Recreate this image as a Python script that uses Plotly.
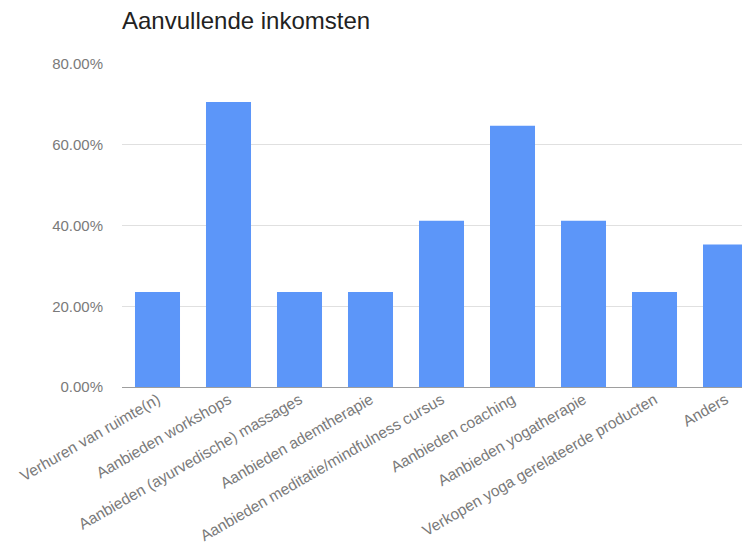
import plotly.graph_objects as go

categories = [
    "Verhuren van ruimte(n)",
    "Aanbieden workshops",
    "Aanbieden (ayurvedische) massages",
    "Aanbieden ademtherapie",
    "Aanbieden meditatie/mindfulness cursus",
    "Aanbieden coaching",
    "Aanbieden yogatherapie",
    "Verkopen yoga gerelateerde producten",
    "Anders",
]
values = [23.53, 70.59, 23.53, 23.53, 41.18, 64.71, 41.18, 23.53, 35.29]
y_ticks = [0, 20, 40, 60, 80]
y_tick_labels = ["0.00%", "20.00%", "40.00%", "60.00%", "80.00%"]

W, H = 742, 545

fig = go.Figure(
    go.Bar(
        x=categories,
        y=values,
        marker=dict(color="#5c96f9", line=dict(width=0)),
        width=0.634,
    )
)

fig.update_layout(
    width=W,
    height=H,
    paper_bgcolor="white",
    plot_bgcolor="white",
    margin=dict(l=114, r=0, t=56, b=166),
    title=dict(
        text="Aanvullende inkomsten",
        x=114 / W,
        xanchor="left",
        y=1 - 13 / H,
        yanchor="middle",
        font=dict(family="Liberation Sans, Arial", size=24, color="#222222"),
    ),
    font=dict(family="Liberation Sans, Arial", size=15, color="#757575"),
    showlegend=False,
)

fig.update_xaxes(
    tickangle=-30,
    range=[-0.5, 8.345],
    showgrid=False,
    showline=False,
    automargin=False,
    ticks="",
    tickfont=dict(size=15.5, color="#7a7a7a"),
)
fig.update_yaxes(
    range=[0, 80],
    tickvals=y_ticks,
    ticktext=y_tick_labels,
    automargin=False,
    showgrid=True,
    gridcolor="#e0e0e0",
    gridwidth=1,
    zeroline=True,
    zerolinecolor="#9e9e9e",
    zerolinewidth=1,
    ticks="outside",
    ticklen=15,
    tickcolor="rgba(0,0,0,0)",
    tickfont=dict(size=15, color="#7a7a7a"),
)

fig.write_html("out.html")
